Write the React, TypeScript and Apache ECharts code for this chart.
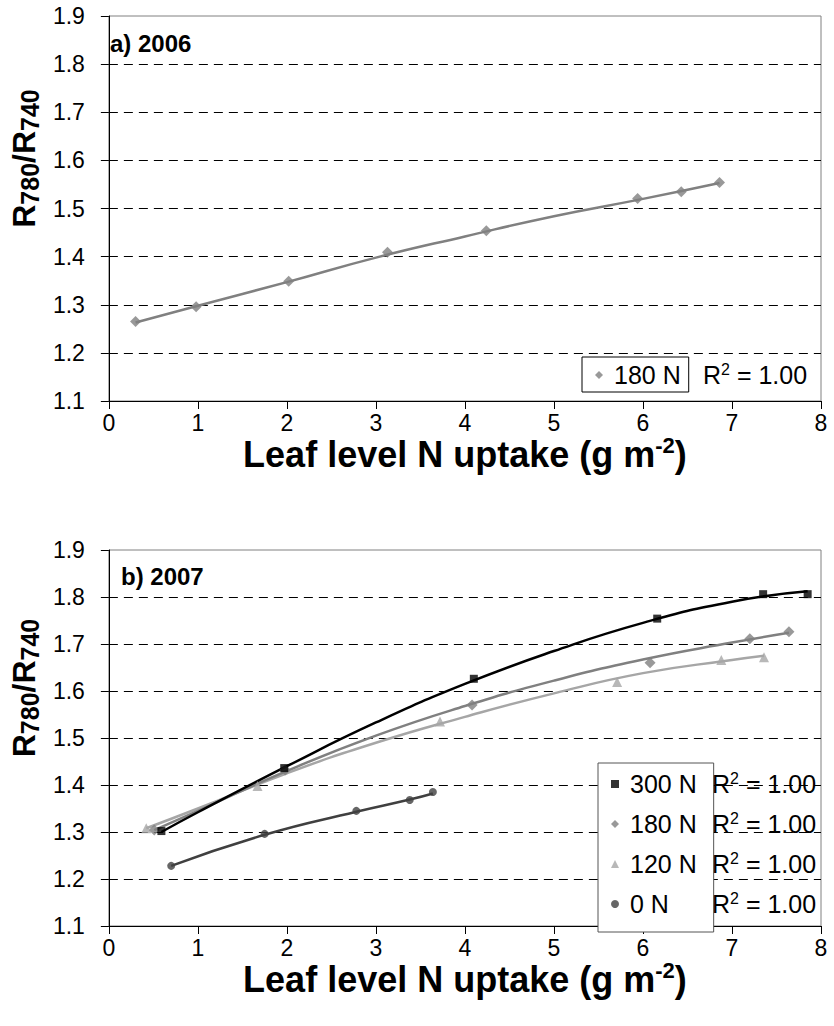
import React, { useEffect, useRef } from "react";
import * as echarts from "echarts";

// ---------- data ----------
const xTickMin = 0;
const xTickMax = 8;
const yTickMin = 1.1;
const yTickMax = 1.9;

// a) 2006 — 180 N
const n180_2006_x = [0.3, 0.98, 2.02, 3.13, 4.24, 5.94, 6.43, 6.86];
const n180_2006_y = [1.265, 1.296, 1.349, 1.409, 1.454, 1.521, 1.535, 1.554];
const n180_2006_trendX = [0.3, 1, 2, 3, 4, 5, 6, 6.86];
const n180_2006_trendY = [1.263, 1.298, 1.347, 1.398, 1.442, 1.484, 1.52, 1.553];

// b) 2007
const n300_x = [0.59, 1.97, 4.1, 6.16, 7.35, 7.85];
const n300_y = [1.302, 1.436, 1.626, 1.754, 1.806, 1.806];
const n300_trendX = [0.59, 1, 2, 3, 4, 5, 6, 7, 7.85];
const n300_trendY = [1.3, 1.342, 1.44, 1.533, 1.615, 1.685, 1.745, 1.79, 1.812];

const n180_x = [0.51, 1.98, 4.08, 6.08, 7.2, 7.64];
const n180_y = [1.304, 1.432, 1.57, 1.66, 1.711, 1.726];
const n180_trendX = [0.51, 1, 2, 3, 4, 5, 6, 7, 7.64];
const n180_trendY = [1.304, 1.345, 1.43, 1.505, 1.568, 1.622, 1.667, 1.703, 1.724];

const n120_x = [0.42, 1.67, 3.72, 5.71, 6.88, 7.36];
const n120_y = [1.308, 1.398, 1.535, 1.619, 1.666, 1.672];
const n120_trendX = [0.42, 1, 2, 3, 4, 5, 6, 7, 7.36];
const n120_trendY = [1.308, 1.35, 1.425, 1.49, 1.545, 1.595, 1.638, 1.666, 1.675];

const n0_x = [0.7, 1.75, 2.78, 3.38, 3.64];
const n0_y = [1.228, 1.296, 1.345, 1.368, 1.385];
const n0_trendX = [0.7, 1.75, 2.78, 3.38, 3.64];
const n0_trendY = [1.228, 1.294, 1.343, 1.369, 1.382];

const r2Labels2006 = ["1.00"];
const r2Labels2007 = ["1.00", "1.00", "1.00", "1.00"];

const FONT = "'Liberation Sans', Arial, sans-serif";

const zip = (xs: number[], ys: number[]) => xs.map((x, i) => [x, ys[i]]);

function xAxisFor(gridIndex: number) {
  return {
    gridIndex,
    type: "value",
    min: xTickMin,
    max: xTickMax,
    interval: 1,
    name: "{t|Leaf level N uptake (g m}{s|-2}{t|)}",
    nameLocation: "middle",
    nameGap: 30,
    nameTextStyle: {
      rich: {
        t: { fontFamily: FONT, fontSize: 36, fontWeight: "bold", color: "#000", lineHeight: 40 },
        s: { fontFamily: FONT, fontSize: 22, fontWeight: "bold", color: "#000", lineHeight: 22, verticalAlign: "top" },
      },
    },
    axisLine: { show: true, onZero: false, lineStyle: { color: "#000", width: 1 } },
    axisTick: { show: true, length: 8, lineStyle: { color: "#000", width: 1 } },
    axisLabel: { margin: 10, fontFamily: FONT, fontSize: 23, color: "#000" },
    splitLine: { show: false },
  };
}

function yAxisFor(gridIndex: number) {
  return {
    gridIndex,
    type: "value",
    min: yTickMin,
    max: yTickMax,
    interval: 0.1,
    name: "{t|R}{s|780}{t|/R}{s|740}",
    nameLocation: "middle",
    nameRotate: 90,
    nameGap: 64,
    nameTextStyle: {
      padding: [0, 0, 0, 100],
      rich: {
        t: { fontFamily: FONT, fontSize: 32, fontWeight: "bold", color: "#000", lineHeight: 36 },
        s: { fontFamily: FONT, fontSize: 25, fontWeight: "bold", color: "#000", lineHeight: 20, verticalAlign: "bottom" },
      },
    },
    axisLine: { show: true, onZero: false, lineStyle: { color: "#000", width: 1 } },
    axisTick: { show: true, length: 8, lineStyle: { color: "#000", width: 1 } },
    axisLabel: {
      margin: 24,
      fontFamily: FONT,
      fontSize: 23,
      color: "#000",
      formatter: (v: number) => v.toFixed(1),
    },
    splitLine: {
      show: true,
      showMinLine: false,
      showMaxLine: false,
      lineStyle: { color: "#000", width: 1, type: [9, 6] },
    },
  };
}

function trend(name: string, xs: number[], ys: number[], color: string, idx: number) {
  return {
    name,
    type: "line",
    xAxisIndex: idx,
    yAxisIndex: idx,
    data: zip(xs, ys),
    smooth: true,
    showSymbol: false,
    symbol: "none",
    lineStyle: { color, width: 2.5 },
    z: 2,
    silent: true,
  };
}

function points(name: string, xs: number[], ys: number[], color: string, symbol: string, size: number, idx: number) {
  return {
    name,
    type: "scatter",
    xAxisIndex: idx,
    yAxisIndex: idx,
    data: zip(xs, ys),
    symbol,
    symbolSize: size,
    itemStyle: { color },
    z: 3,
  };
}

function r2Text(x: number, y: number, value: string) {
  return {
    type: "text",
    x,
    y,
    style: {
      text: `{t|R}{s|2}{t| = ${value}}`,
      verticalAlign: "middle",
      align: "left",
      rich: {
        t: { fontFamily: FONT, fontSize: 25, color: "#000", lineHeight: 28 },
        s: { fontFamily: FONT, fontSize: 16, color: "#000", lineHeight: 16, verticalAlign: "top" },
      },
    },
    z: 10,
  };
}

export default function App() {
  const ref = useRef<HTMLDivElement>(null);

  useEffect(() => {
    if (!ref.current) return;
    const chart = echarts.init(ref.current, null, { renderer: "svg" });

    const option = {
      animation: false,
      backgroundColor: "#fff",
      textStyle: { fontFamily: FONT },
      grid: [
        { left: 104, top: 16, width: 717, height: 385, show: true, borderColor: "#808080", borderWidth: 1, backgroundColor: "transparent" },
        { left: 104, top: 550, width: 717, height: 376, show: true, borderColor: "#808080", borderWidth: 1, backgroundColor: "transparent" },
      ],
      xAxis: [xAxisFor(0), xAxisFor(1)],
      yAxis: [yAxisFor(0), yAxisFor(1)],
      legend: [
        {
          orient: "vertical",
          left: 582,
          top: 357,
          padding: [4, 8, 3, 13],
          itemWidth: 8,
          itemHeight: 8,
          itemGap: 12,
          borderColor: "#000",
          borderWidth: 1,
          backgroundColor: "#fff",
          selectedMode: false,
          textStyle: { fontFamily: FONT, fontSize: 25, color: "#000", lineHeight: 28, padding: [0, 0, 0, 6] },
          data: [{ name: "180 N", icon: "diamond" }],
        },
        {
          orient: "vertical",
          left: 598,
          top: 763,
          padding: [7, 10, 14, 13],
          itemWidth: 8,
          itemHeight: 8,
          itemGap: 12,
          borderColor: "#555",
          borderWidth: 1,
          backgroundColor: "#fff",
          selectedMode: false,
          textStyle: { fontFamily: FONT, fontSize: 25, color: "#000", lineHeight: 28, padding: [0, 0, 0, 6] },
          data: [
            { name: "300 N", icon: "rect" },
            { name: "180 N ", icon: "diamond" },
            { name: "120 N", icon: "triangle" },
            { name: "0 N", icon: "circle" },
          ],
        },
      ],
      graphic: [
        {
          type: "text",
          x: 110,
          y: 43,
          style: { text: "a) 2006", fontFamily: FONT, fontSize: 24, fontWeight: "bold", fill: "#000", verticalAlign: "middle" },
          z: 10,
        },
        {
          type: "text",
          x: 121,
          y: 576,
          style: { text: "b) 2007", fontFamily: FONT, fontSize: 24, fontWeight: "bold", fill: "#000", verticalAlign: "middle" },
          z: 10,
        },
        r2Text(703, 375, r2Labels2006[0]),
        r2Text(712, 784, r2Labels2007[0]),
        r2Text(712, 824, r2Labels2007[1]),
        r2Text(712, 864, r2Labels2007[2]),
        r2Text(712, 904, r2Labels2007[3]),
      ],
      series: [
        trend("180 N trend 2006", n180_2006_trendX, n180_2006_trendY, "#808080", 0),
        points("180 N", n180_2006_x, n180_2006_y, "#808080", "diamond", 11, 0),

        trend("0 N trend", n0_trendX, n0_trendY, "#404040", 1),
        trend("120 N trend", n120_trendX, n120_trendY, "#a6a6a6", 1),
        trend("180 N trend", n180_trendX, n180_trendY, "#808080", 1),
        trend("300 N trend", n300_trendX, n300_trendY, "#000000", 1),
        points("0 N", n0_x, n0_y, "#404040", "circle", 8, 1),
        points("120 N", n120_x, n120_y, "#a6a6a6", "triangle", 10, 1),
        points("180 N ", n180_x, n180_y, "#808080", "diamond", 11, 1),
        points("300 N", n300_x, n300_y, "#000000", "rect", 8, 1),
      ],
    };

    chart.setOption(option as any);
    return () => chart.dispose();
  }, []);

  return (
    <div
      ref={ref}
      style={{ position: "fixed", left: 0, top: 0, width: 834, height: 1026, background: "#fff" }}
    />
  );
}
